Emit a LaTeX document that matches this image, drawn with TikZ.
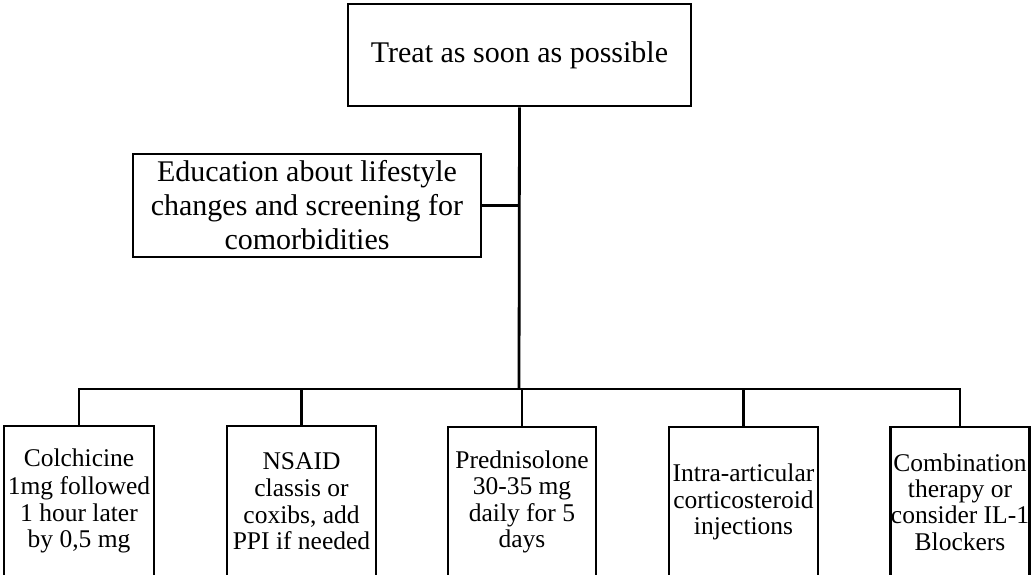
\documentclass[tikz,border=0pt]{standalone}
\usepackage{fontspec}
\setmainfont{Liberation Serif}
\begin{document}
\begin{tikzpicture}[x=1pt,y=-1pt,
  box/.style={draw=black, line width=2.8pt, inner sep=0pt, align=center, fill=white},
  bigtxt/.style={font=\fontsize{30}{34}\selectfont},
  smalltxt/.style={font=\fontsize{25.5}{26.3}\selectfont},
  lowbox/.style={box, smalltxt, minimum height=150pt},
  conn/.style={draw=black, line width=2.8pt}
]
\useasboundingbox (0,0) rectangle (1034,574);
\clip (0,0) rectangle (1034,574);

\node[box, bigtxt, minimum width=343pt, minimum height=102pt] (top) at (519.5,55) {Treat as soon as possible};
\node[box, bigtxt, minimum width=348pt, minimum height=103pt] (edu) at (307,205.5)
  {Education about lifestyle\\changes and screening for\\comorbidities};

\coordinate (bar) at (519,389);

\node[lowbox, minimum width=150pt] (b1) at (79,501) {Colchicine\\[1.5pt]1mg followed\\1 hour later\\by 0,5 mg};
\node[lowbox, minimum width=149pt] (b2) at (301.5,501) {NSAID\\[1.5pt]classis or\\coxibs, add\\PPI if needed};
\node[lowbox, minimum width=148pt] (b3) at (522,502) {Prednisolone\\30-35 mg\\daily for 5\\days};
\node[lowbox, minimum width=149pt] (b4) at (743.5,502) {Intra-articular\\corticosteroid\\injections};
\node[lowbox, minimum width=139pt] (b5) at (960,502) {Combination\\therapy or\\consider IL-1\\Blockers};

\draw[conn] (top.south) -- (bar);
\draw[conn] (edu.east) -- (top.south |- edu.east);
\foreach \b in {b1,b2,b3,b4,b5} {
  \draw[conn] (\b.north) |- (bar);
}
\end{tikzpicture}
\end{document}
